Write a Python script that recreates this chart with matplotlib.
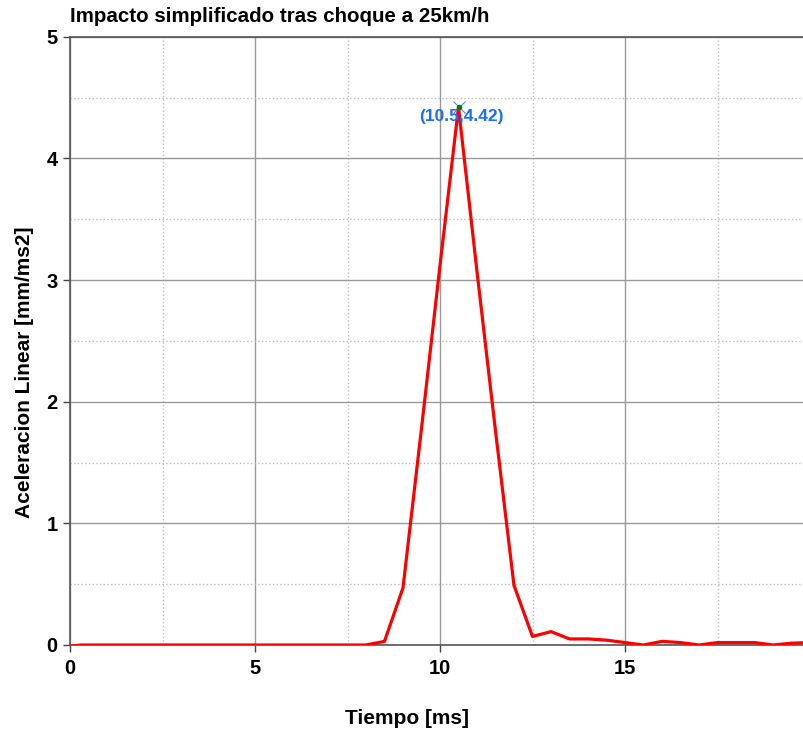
import matplotlib.pyplot as plt
from matplotlib.ticker import MultipleLocator

plt.rcParams['font.family'] = ['Liberation Sans', 'DejaVu Sans']

# Simulated impact data (time in ms, acceleration in mm/ms2)
t = [0.0, 0.3, 8.0, 8.5, 9.0, 9.5, 10.0, 10.5, 11.0, 11.5, 12.0, 12.5,
     13.0, 13.5, 14.0, 14.5, 15.0, 15.5, 16.0, 16.5, 17.0, 17.5, 18.0,
     18.5, 19.0, 19.5, 20.0]
acc = [-0.01, 0.0, 0.0, 0.03, 0.47, 1.78, 3.12, 4.42, 3.07, 1.76, 0.49, 0.07,
       0.11, 0.05, 0.05, 0.04, 0.02, 0.0, 0.03, 0.02, 0.0, 0.02, 0.02,
       0.02, 0.0, 0.015, 0.02]
peak_t, peak_a = 10.5, 4.42
xticks = [0, 5, 10, 15]
yticks = [0, 1, 2, 3, 4, 5]

fig = plt.figure(figsize=(8.04, 7.35), dpi=100)
ax = fig.add_axes([70/804, 90/735, 740/804, 608.3/735])

ax.plot(t, acc, color='red', linewidth=2.3, zorder=3)

# data tip on the peak
ax.plot([peak_t], [peak_a], marker='x', markersize=9, color='#4a90d9',
        markeredgewidth=0.8, zorder=4)
ax.plot([peak_t], [peak_a], marker='o', markersize=3, color='green', zorder=5)
ax.annotate(f'({peak_t},{peak_a})', (peak_t, peak_a), xytext=(2, -7),
            textcoords='offset points', ha='center', va='center',
            color='#1a6dff', fontsize=12.5, fontweight='bold', zorder=6)

ax.set_xlim(0, 20)
ax.set_ylim(0, 5)
ax.set_xticks(xticks)
ax.set_yticks(yticks)
ax.xaxis.set_minor_locator(MultipleLocator(2.5))
ax.yaxis.set_minor_locator(MultipleLocator(0.5))

ax.grid(which='major', color='#999999', linestyle='-', linewidth=1.0)
ax.grid(which='minor', color='#bbbbbb', linestyle=':', linewidth=1.0)
ax.set_axisbelow(True)

ax.tick_params(which='major', direction='out', length=5, width=1,
               color='#444444', labelsize=14.5, pad=4)
ax.tick_params(axis='x', which='major', pad=5)
ax.tick_params(which='minor', length=0)
for lab in ax.get_xticklabels() + ax.get_yticklabels():
    lab.set_fontweight('bold')

for s in ['left', 'bottom', 'top']:
    ax.spines[s].set_color('#555555')
    ax.spines[s].set_linewidth(1.2)
ax.spines['right'].set_visible(False)

fig.text(70/804, 1 - 17/735, 'Impacto simplificado tras choque a 25km/h',
         fontsize=14.8, fontweight='bold', ha='left', va='center')
fig.text(25/804, 1 - 372/735, 'Aceleracion Linear [mm/ms2]', rotation=90,
         fontsize=15, fontweight='bold', ha='center', va='center')
fig.text(407/804, 1 - 718/735, 'Tiempo [ms]', fontsize=15,
         fontweight='bold', ha='center', va='center')

fig.savefig('out.png', dpi=100)
